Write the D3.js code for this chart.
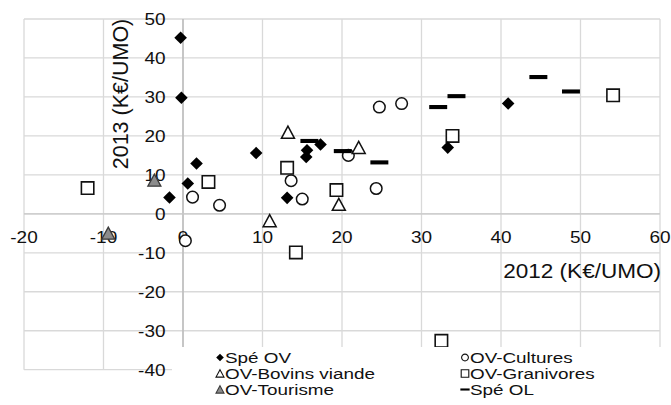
<!DOCTYPE html>
<html><head><meta charset="utf-8">
<script src="https://cdn.jsdelivr.net/npm/d3@7/dist/d3.min.js"></script>
<style>body{margin:0;background:#fff}svg{display:block}text{font-family:"Liberation Sans",Arial,sans-serif;fill:#111}</style>
</head><body>
<script>
// ---- data (x = 2012, y = 2013, K€/UMO) ----
const speOV = [[-0.3,45.2],[-0.2,29.8],[1.7,12.9],[0.6,7.8],[-1.7,4.2],[9.2,15.6],[15.6,16.3],[15.5,14.6],[17.3,17.8],[13.1,4.1],[33.3,17.0],[40.9,28.3]];
const cultures = [[1.2,4.3],[4.6,2.2],[0.3,-6.9],[13.6,8.5],[15.0,3.8],[20.8,15.0],[24.3,6.5],[24.7,27.4],[27.5,28.3]];
const bovins = [[13.2,20.9],[22.1,17.0],[19.6,2.4],[10.9,-1.8]];
const granivores = [[-12.0,6.6],[3.2,8.2],[13.1,11.8],[19.3,6.1],[14.2,-9.9],[33.9,20.0],[54.1,30.4],[32.5,-32.6]];
const tourisme = [[-3.6,8.6],[-9.4,-5.0]];
const speOL = [[15.9,18.7],[20.1,16.1],[24.7,13.2],[32.1,27.4],[34.4,30.2],[44.7,35.1],[48.8,31.4]];
const xTicks = [-20,-10,0,10,20,30,40,50,60];
const yTicks = [-40,-30,-20,-10,0,10,20,30,40,50];
const seriesNames = ["Spé OV","OV-Cultures","OV-Bovins viande","OV-Granivores","OV-Tourisme","Spé OL"];
const xTitle = "2012 (K€/UMO)", yTitle = "2013 (K€/UMO)";

const W = 671, H = 405, SX = 1.15;
const svg = d3.select("body").append("svg").attr("width", W).attr("height", H);
const x = d3.scaleLinear().domain([-20,60]).range([24,660]);
const y = d3.scaleLinear().domain([-40,50]).range([369.7,19]);

// gridlines
const grid = svg.append("g");
grid.selectAll(".v").data(xTicks).join("line")
  .attr("x1", d=>x(d)).attr("x2", d=>x(d)).attr("y1", y(50)).attr("y2", y(-40))
  .attr("stroke", "#d9d9d9").attr("stroke-width", 1.3);
grid.selectAll(".h").data(yTicks).join("line")
  .attr("x1", x(-20)).attr("x2", x(60)).attr("y1", d=>y(d)).attr("y2", d=>y(d))
  .attr("stroke", "#d9d9d9").attr("stroke-width", 1.3);
// axis lines
svg.append("line").attr("x1", x(0)).attr("x2", x(0)).attr("y1", y(50)).attr("y2", y(-40)).attr("stroke", "#b5b5b5").attr("stroke-width", 1.3);
svg.append("line").attr("x1", x(-20)).attr("x2", x(60)).attr("y1", y(0)).attr("y2", y(0)).attr("stroke", "#c8c8c8").attr("stroke-width", 1.3);

function txt(g, s, px, py, size, anchor, sx) {
  return g.append("text").attr("transform", `translate(${px},${py}) scale(${sx||SX},1)`)
    .attr("text-anchor", anchor).attr("font-size", size).text(s);
}
// tick labels
const tl = svg.append("g");
xTicks.forEach(d => txt(tl, d, x(d), y(0) + 29.5, 16.5, "middle"));
yTicks.forEach(d => txt(tl, d, 165.5, y(d) + 6, 16.5, "end"));

// axis titles
txt(svg, xTitle, 661, 277.5, 20.5, "end", 1.1);
svg.append("text").attr("transform", `translate(127.5,94) rotate(-90)`).attr("text-anchor", "middle")
  .attr("font-size", 21.5).text(yTitle);

// marker shapes
const shapes = {
  diamond: s => `M0,${-s}L${s},0L0,${s}L${-s},0Z`,
  circle: s => d3.arc()({innerRadius:0,outerRadius:s,startAngle:0,endAngle:2*Math.PI}),
  square: s => `M${-s},${-s}H${s}V${s}H${-s}Z`,
  triangle: s => `M0,${-s}L${s*1.05},${s*0.95}L${-s*1.05},${s*0.95}Z`,
  dash: s => `M${-s*1.45},${-s*0.33}H${s*1.45}V${s*0.33}H${-s*1.45}Z`
};
const styles = [
  {data: speOV, shape: "diamond", size: 6.3, fill: "#000", stroke: "none", sw: 0},
  {data: cultures, shape: "circle", size: 5.8, fill: "#fff", stroke: "#111", sw: 1.5},
  {data: bovins, shape: "triangle", size: 6.2, fill: "#fff", stroke: "#111", sw: 1.5},
  {data: granivores, shape: "square", size: 6.2, fill: "#fff", stroke: "#111", sw: 1.6},
  {data: tourisme, shape: "triangle", size: 6.2, fill: "#8c8c8c", stroke: "#3a3a3a", sw: 1.3},
  {data: speOL, shape: "dash", size: 6.2, fill: "#000", stroke: "none", sw: 0}
];
const drawOrder = [1,2,3,4,0,5];
drawOrder.forEach(i => {
  const st = styles[i];
  svg.append("g").selectAll("path").data(st.data).join("path")
    .attr("transform", d => `translate(${x(d[0])},${y(d[1])})`)
    .attr("d", shapes[st.shape](st.size))
    .attr("fill", st.fill).attr("stroke", st.stroke).attr("stroke-width", st.sw);
});

// legend
const lg = svg.append("g");
lg.append("rect").attr("x", 172).attr("y", 347).attr("width", W - 172).attr("height", H - 347).attr("fill", "#fff");
const rowsY = [357.5, 373.5, 389.5];
const colX = [220, 465];
seriesNames.forEach((name, i) => {
  const st = styles[i];
  const cx = colX[i % 2], cy = rowsY[Math.floor(i / 2)];
  const s = st.shape === "circle" ? 3.4 : (st.shape === "dash" ? 3.2 : 3.8);
  lg.append("path").attr("transform", `translate(${cx},${cy})`).attr("d", shapes[st.shape](s))
    .attr("fill", st.fill).attr("stroke", st.stroke).attr("stroke-width", st.sw ? 1.1 : 0);
  txt(lg, name, cx + 5, cy + 5.2, 14.3, "start", 1.32);
});
</script>
</body></html>
